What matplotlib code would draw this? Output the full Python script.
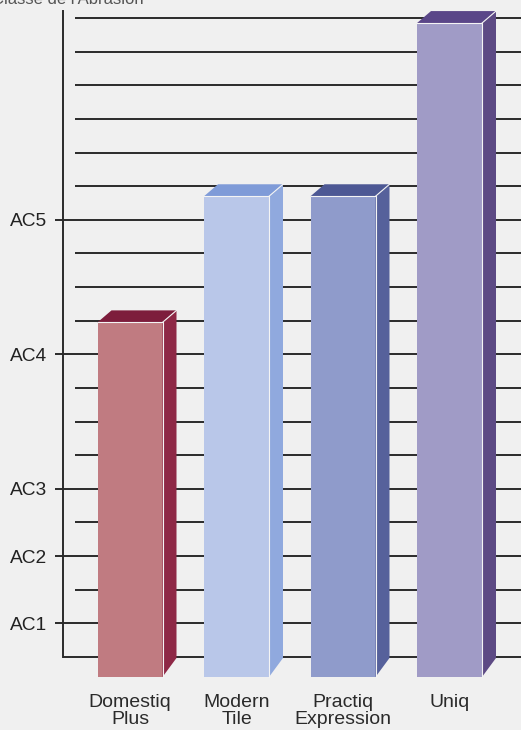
import matplotlib
matplotlib.use("Agg")
import matplotlib.pyplot as plt
from matplotlib.patches import Polygon, Rectangle

# ---- data (values in grid steps of the abrasion scale; AC labels on their grid lines) ----
categories = ["Domestiq\nPlus", "Modern\nTile", "Practiq\nExpression", "Uniq"]
values = [9.95, 13.7, 13.7, 18.85]
tick_positions = [1, 3, 5, 9, 13]
tick_labels = ["AC1", "AC2", "AC3", "AC4", "AC5"]
grid_levels = list(range(0, 20))
title = "Classe de l'Abrasion"

front_colors = ["#c07b81", "#b9c7e9", "#8f9bcb", "#a09bc6"]
side_colors = ["#8e2846", "#90a9de", "#56619b", "#5d4a84"]
top_colors = ["#7d1d3c", "#7f9bd8", "#4d5894", "#5a4688"]

# ---- layout (pixel based) ----
W, H = 521, 730
bg = "#f0f0f0"
line_col = "#2a2a2a"
fig = plt.figure(figsize=(W / 100, H / 100), dpi=100)
fig.patch.set_facecolor(bg)
plt.rcParams["font.family"] = ["Liberation Sans", "DejaVu Sans"]

ppu_y = 33.63
y0px = 657
ylo, yhi = -1.0, 19.3
bottom_px = y0px + (0 - ylo) * ppu_y
top_px = y0px - yhi * ppu_y
axis_px = 63
ax = fig.add_axes([axis_px / W, (H - bottom_px) / H, (W - axis_px) / W, (bottom_px - top_px) / H])
ax.set_facecolor(bg)
ppu_x = 106.5
x0px = 130
xlo = (axis_px - x0px) / ppu_x
xhi = (W - x0px) / ppu_x
ax.set_xlim(xlo, xhi)
ax.set_ylim(ylo, yhi)

for s in ["top", "right", "bottom"]:
    ax.spines[s].set_visible(False)
ax.spines["left"].set_bounds(0, 19.2)
ax.spines["left"].set_color(line_col)
ax.spines["left"].set_linewidth(1.4)
ax.spines["left"].set_zorder(2)

# grid lines
for lvl in grid_levels:
    if lvl in tick_positions:
        start = xlo - 8 / ppu_x
    elif lvl == 0:
        start = xlo
    else:
        start = (75 - x0px) / ppu_x
    ax.plot([start, xhi], [lvl, lvl], color=line_col, lw=1.4, zorder=1,
            clip_on=False, solid_capstyle="butt")

ax.set_yticks(tick_positions, tick_labels)
ax.tick_params(axis="y", length=0, pad=16 * 0.72, labelsize=13.8, labelcolor="#222222")
ax.set_xticks([])

# 3D bars
w = 65 / ppu_x
dx = 14 / ppu_x
dyt = 12 / ppu_y
dyb = 19 / ppu_y
base = -20 / ppu_y
for i, v in enumerate(values):
    xl = i - w / 2
    xr = i + w / 2
    ax.add_patch(Rectangle((xl, base), w, v - base, facecolor=front_colors[i],
                           edgecolor="none", zorder=3, clip_on=False))
    ax.add_patch(Polygon([(xr, base), (xr + dx, base + dyb), (xr + dx, v + dyt), (xr, v)],
                         closed=True, facecolor=side_colors[i], edgecolor="none",
                         zorder=3, clip_on=False))
    ax.add_patch(Polygon([(xl, v), (xl + dx, v + dyt), (xr + dx, v + dyt), (xr, v)],
                         closed=True, facecolor=top_colors[i], edgecolor="none",
                         zorder=3, clip_on=False))
    # light edges between faces
    ax.plot([xl, xr, xr], [v, v, base], color="#f4f4f4", lw=0.8, zorder=4, clip_on=False)
    ax.plot([xr, xr + dx], [v, v + dyt], color="#f4f4f4", lw=0.8, zorder=4, clip_on=False)
    ax.text(i, (y0px - 694) / ppu_y, categories[i], ha="center", va="top",
            fontsize=14, color="#2a2a2a", linespacing=1.0, clip_on=False)

fig.text(-8 / W, 1 - 4 / H, title, ha="left", va="baseline", fontsize=12, color="#555555")

fig.savefig("out.png", dpi=100, facecolor=bg)
